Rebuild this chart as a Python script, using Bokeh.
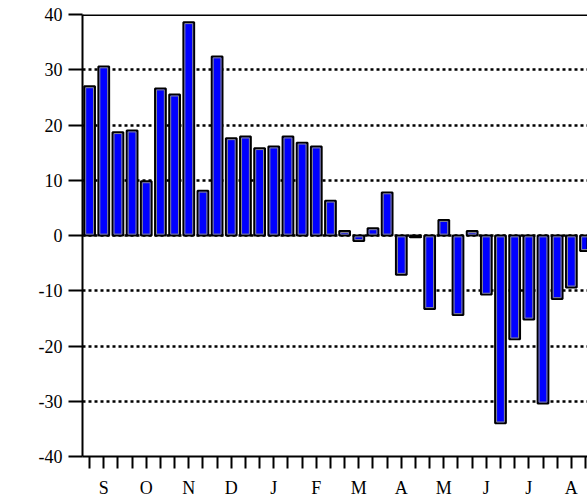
from bokeh.plotting import figure
from bokeh.models import FixedTicker, Span, ColumnDataSource, Range1d
from bokeh.embed import file_html
from bokeh.resources import INLINE

# 36 ten-day periods, September to August
periods = list(range(1, 37))
values = [27.0, 30.6, 18.7, 19.0, 9.8, 26.6, 25.5, 38.6, 8.1, 32.4,
          17.6, 17.9, 15.8, 16.1, 17.9, 16.8, 16.1, 6.3, 0.8, -1.0,
          1.3, 7.8, -7.1, -0.3, -13.3, 2.8, -14.4, 0.8, -10.7, -34.0,
          -18.8, -15.2, -30.4, -11.5, -9.4, -2.8]
month_labels = ["S", "O", "N", "D", "J", "F", "M", "A", "M", "J", "J", "A"]
y_ticks = [-40, -30, -20, -10, 0, 10, 20, 30, 40]

src = ColumnDataSource(data=dict(x=periods, v=values))

# inner highlight outline (slightly inset from each bar)
inset = 0.25
inner_top = []
inner_bot = []
for v in values:
    if abs(v) > 2 * inset:
        s = 1 if v > 0 else -1
        inner_top.append(v - s * inset)
        inner_bot.append(s * inset)
    else:
        inner_top.append(float("nan"))
        inner_bot.append(float("nan"))
src_in = ColumnDataSource(data=dict(x=periods, t=inner_top, b=inner_bot))

p = figure(frame_width=505, frame_height=442,
           x_range=Range1d(0.5, 36.14), y_range=Range1d(-40, 40),
           output_backend="svg", toolbar_location=None,
           min_border_left=82, min_border_right=0,
           min_border_top=14, min_border_bottom=42)
p.outline_line_color = None
p.background_fill_color = "white"
p.border_fill_color = "white"

# grid
p.xgrid.visible = False
p.ygrid.ticker = FixedTicker(ticks=y_ticks)
p.ygrid.grid_line_color = "black"
p.ygrid.grid_line_width = 2.5
p.ygrid.grid_line_dash = "3 3"

# bars
p.vbar(x="x", top="v", bottom=0, width=0.76, source=src,
       fill_color="#0000ff", line_color="black", line_width=2)
p.vbar(x="x", top="t", bottom="b", width=0.55, source=src_in,
       fill_color=None, line_color="#8a8a8a", line_width=1)

# top border line
p.add_layout(Span(location=40, dimension="width", line_color="black", line_width=3))

# y axis
ya = p.yaxis[0]
ya.ticker = FixedTicker(ticks=y_ticks)
ya.major_label_overrides = {t: str(t) for t in y_ticks}
ya.axis_line_width = 2
ya.major_tick_line_width = 2
ya.major_tick_in = 0
ya.major_tick_out = 14
ya.minor_tick_line_color = None
ya.major_label_standoff = 6
ya.major_label_text_font = "Liberation Serif"
ya.major_label_text_font_size = "18px"
ya.major_label_text_color = "black"

# x axis
xa = p.xaxis[0]
xa.ticker = FixedTicker(ticks=periods)
overrides = {}
for i in periods:
    overrides[i] = ""
for k, m in enumerate(month_labels):
    overrides[2 + 3 * k] = m
xa.major_label_overrides = overrides
xa.axis_line_width = 2
xa.major_tick_line_width = 2
xa.major_tick_in = 0
xa.major_tick_out = 12
xa.minor_tick_line_color = None
xa.major_label_standoff = 9
xa.major_label_text_font = "Liberation Serif"
xa.major_label_text_font_size = "18px"
xa.major_label_text_color = "black"

open("out.html", "w").write(file_html(p, INLINE))
